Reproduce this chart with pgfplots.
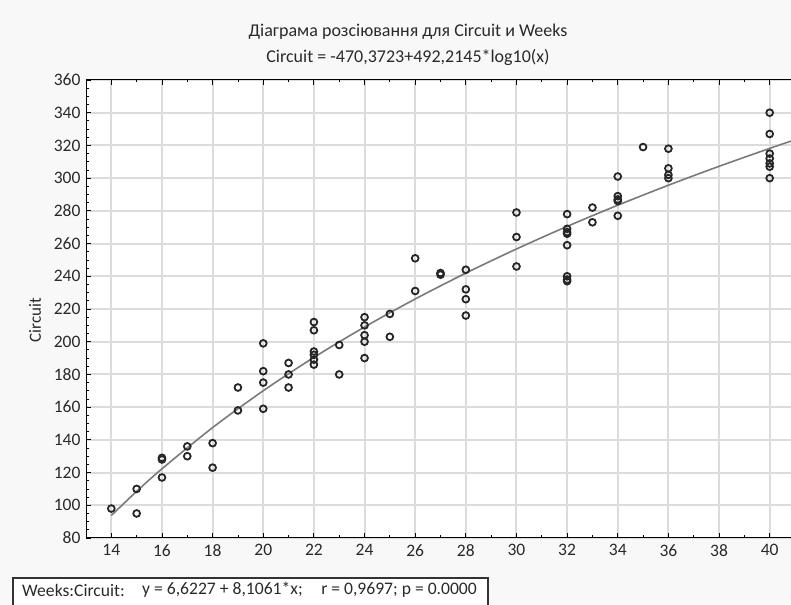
\documentclass[border=0pt]{standalone}
\usepackage{fontspec}
\setmainfont{Carlito}
\usepackage{pgfplots}
\pgfplotsset{compat=1.18}
\definecolor{bgc}{HTML}{F8F8F8}
\definecolor{gridc}{HTML}{DCDCDC}
\definecolor{fitc}{HTML}{7A7A7A}
\definecolor{txt}{HTML}{2A2A2A}
\begin{document}
\begin{tikzpicture}[x=1pt,y=1pt]
\fill[bgc] (0,0) rectangle (791,604);
\begin{axis}[
  at={(86pt,66pt)}, anchor=south west,
  scale only axis, width=709pt, height=458pt,
  xmin=13, xmax=41, ymin=80, ymax=360,
  xtick={14,16,...,40}, ytick={80,100,...,360},
  minor x tick num=1, minor y tick num=3,
  axis y line*=left, y axis line style={-},
  axis background/.style={fill=white},
  grid=major, major grid style={gridc, line width=2pt},
  tick align=inside, major tick length=5pt, minor tick length=2.5pt,
  every tick/.style={black, line width=0.8pt},
  axis line style={black, line width=1pt},
  tick label style={font=\fontsize{17.5}{20}\selectfont, text=txt},
  /pgf/number format/assume math mode=true,
  xticklabel style={yshift=-3pt},
  yticklabel style={xshift=-2pt},
  clip=true,
]
\addplot[fitc, line width=1.6pt, smooth] coordinates {
(14,93.77) (15,108.52) (16,122.31) (18,147.49) (20,170.01) (22,190.39)
(24,208.99) (26,226.10) (28,241.94) (30,256.69) (32,270.48) (34,283.44)
(36,295.66) (38,307.22) (40,318.18) (41,323.46)};
\addplot[only marks, mark=o, mark size=3.4pt, mark options={line width=1.8pt, draw=black!85}] table {
x y
14 98
15 110
15 95
16 129
16 128
16 117
17 136
17 130
18 138
18 123
19 172
19 158
20 199
20 182
20 175
20 159
21 187
21 180
21 172
22 212
22 207
22 194
22 192
22 189
22 186
23 198
23 180
24 215
24 210
24 204
24 200
24 190
25 217
25 203
26 251
26 231
27 241
27 242
28 244
28 232
28 226
28 216
30 279
30 264
30 246
32 278
32 269
32 267
32 266
32 259
32 240
32 238
32 237
33 282
33 273
34 301
34 289
34 287
34 286
34 277
35 319
36 318
36 306
36 302
36 300
40 340
40 327
40 315
40 312
40 309
40 307
40 300
};
\end{axis}
\node[txt, font=\fontsize{18}{20}\selectfont] at (408,572) {Діаграма розсіювання для Circuit и Weeks};
\node[txt, font=\fontsize{18}{20}\selectfont] at (408,547) {Circuit = -470,3723+492,2145*log10(x)};
\node[txt, rotate=90, font=\fontsize{17}{19}\selectfont] at (35,284) {Circuit};
\draw[black!80, line width=1.2pt, fill=white] (13,-3) rectangle (488,26);
\node[txt, anchor=west, inner sep=0pt, font=\fontsize{17.6}{20}\selectfont] at (22,14) {Weeks:Circuit:};
\node[txt, anchor=west, inner sep=0pt, font=\fontsize{17.6}{20}\selectfont] at (142,14) {y = 6,6227 + 8,1061*x;};
\node[txt, anchor=east, inner sep=0pt, font=\fontsize{17.6}{20}\selectfont] at (477,14) {r = 0,9697; p = 0.0000};
\pgfresetboundingbox
\useasboundingbox (0,0) rectangle (791,604);
\end{tikzpicture}
\end{document}
